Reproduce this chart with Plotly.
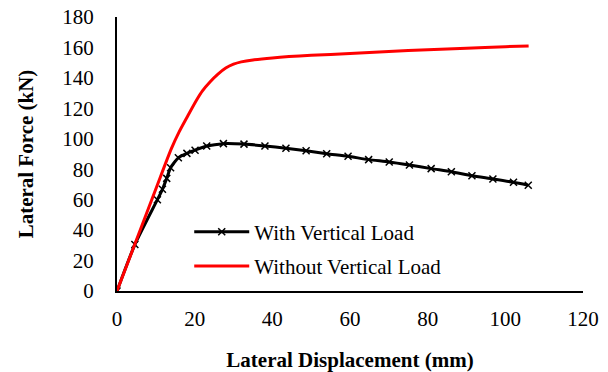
import plotly.graph_objects as go

# Data
with_load_x = [0, 4.6, 10.4, 11.7, 12.8, 13.8, 15.8, 18.0, 20.1, 23.1, 27.4, 32.7, 38.1,
               43.5, 48.7, 54.0, 59.5, 64.8, 70.1, 75.3, 80.9, 86.1, 91.4, 96.8, 102.1, 105.9]
with_load_y = [0, 30.5, 60.0, 66.8, 74.0, 81.0, 87.5, 90.4, 92.5, 95.2, 96.8, 96.5, 95.3,
               93.8, 92.1, 90.2, 88.5, 86.3, 84.8, 82.8, 80.4, 78.4, 75.7, 73.6, 71.4, 69.5]

without_load_x = [0, 5, 10, 14, 16, 18, 20.5, 22, 24, 26, 28, 30, 32, 35, 40, 50, 60, 70, 80, 90, 100, 106]
without_load_y = [0, 33.5, 67, 93.5, 104.5, 114, 125.5, 131.5, 137.5, 142.5, 146.5, 149.0,
                  150.5, 151.8, 153.1, 154.8, 156, 157.3, 158.5, 159.5, 160.5, 161]

x_ticks = [0, 20, 40, 60, 80, 100, 120]
y_ticks = [0, 20, 40, 60, 80, 100, 120, 140, 160, 180]

FONT = "Liberation Serif, Times New Roman, serif"
FS = 21

fig = go.Figure()
fig.add_trace(go.Scatter(
    x=with_load_x, y=with_load_y, mode="lines+markers", name="With Vertical Load",
    line=dict(color="black", width=3, shape="spline", smoothing=0.6),
    marker=dict(symbol="x-thin", size=7, line=dict(color="black", width=1.5)),
    legendgroup="a",
))
fig.add_trace(go.Scatter(
    x=without_load_x, y=without_load_y, mode="lines", name="Without Vertical Load",
    line=dict(color="#ff0000", width=3, shape="spline", smoothing=0.8),
    legendgroup="b",
))

fig.update_layout(
    width=608, height=372,
    margin=dict(l=117, r=25, t=17, b=81, autoexpand=False),
    paper_bgcolor="white", plot_bgcolor="white",
    font=dict(family=FONT, size=FS, color="black"),
    showlegend=True,
    legend=dict(x=0.155, y=0.29, xanchor="left", yanchor="top",
                bgcolor="rgba(0,0,0,0)", font=dict(size=FS, family=FONT),
                tracegroupgap=4, itemwidth=55),
    xaxis=dict(range=[0, 120], tickvals=x_ticks, showgrid=False, zeroline=False,
               showline=True, linecolor="black", linewidth=2, ticks="",
               ticklabelstandoff=8, tickfont=dict(size=FS), automargin=False,
               title=dict(text="<b>Lateral Displacement (mm)</b>", font=dict(size=FS), standoff=23)),
    yaxis=dict(range=[0, 180], tickvals=y_ticks, showgrid=False, zeroline=False,
               showline=True, linecolor="black", linewidth=2, ticks="",
               ticklabelstandoff=17, tickfont=dict(size=FS), automargin=False,
               title=dict(text="<b>Lateral Force (kN)</b>", font=dict(size=FS), standoff=23)),
)

fig.write_html("out.html")
